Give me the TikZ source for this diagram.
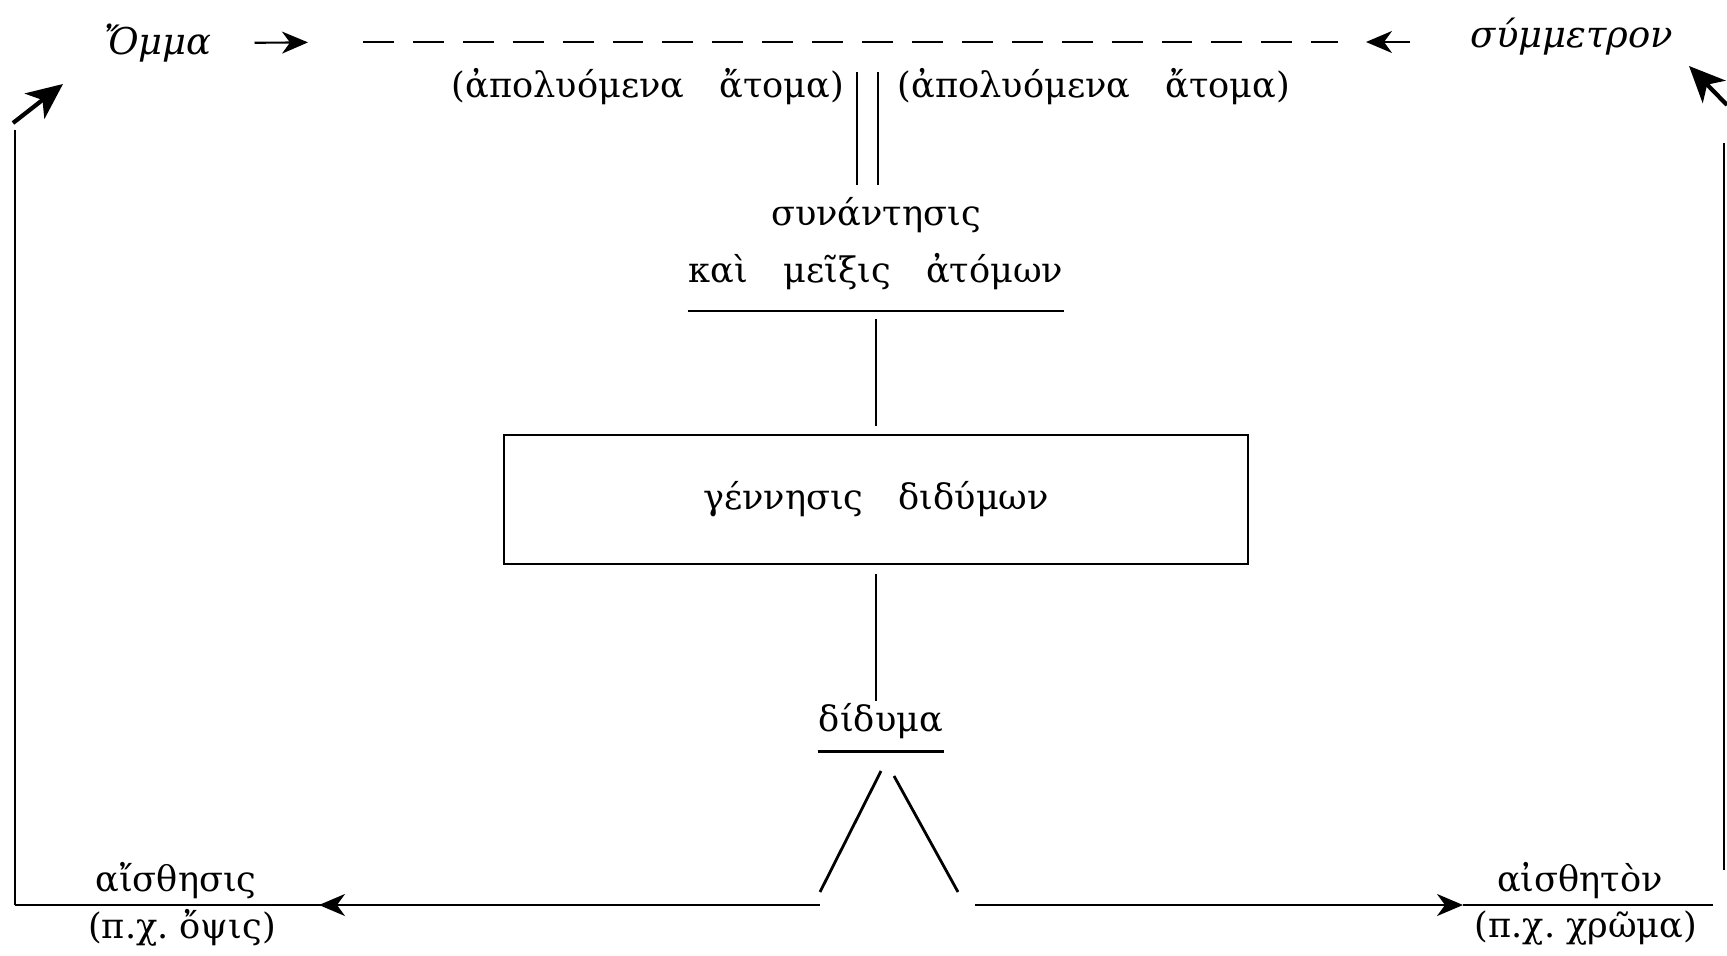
\documentclass[tikz,border=0pt]{standalone}
\usepackage{fontspec}
\setmainfont{DejaVu Serif}
\usetikzlibrary{arrows.meta}
\begin{document}
\begin{tikzpicture}[>={Stealth[length=2.6mm,width=2.2mm,inset=0.8mm]}, semithick,
  lbl/.style={font=\fontsize{10}{12}\selectfont, inner xsep=0pt},
  ital/.style={font=\fontsize{10.5}{13}\selectfont\itshape},
  bigtip/.style={very thick, -{Stealth[length=3.6mm,width=3.2mm,inset=1mm]}}]
\useasboundingbox (0,0) rectangle (17.27,9.55);
% top row
\node[ital] (omma) at (1.58,9.12) {Ὄμμα};
\node[ital] (symm) at (15.72,9.18) {σύμμετρον};
\coordinate (dl) at (3.63,9.13);
\coordinate (dr) at (13.38,9.13);
\draw[dash pattern=on 8.8pt off 5.4pt] (dl)--(dr);
\draw[->, shorten <=3mm, shorten >=5.5mm] (omma.east)--(dl);
\draw[->, shorten <=4.8mm, shorten >=2.8mm] (symm.west |- dr)--(dr);
\node[lbl] (freeL) at (6.48,8.68) {(ἀπολυόμενα\quad ἄτομα)};
\node[lbl] (freeR) at (10.94,8.68) {(ἀπολυόμενα\quad ἄτομα)};
% the two currents meet
\coordinate (dbl) at (8.675,8.83);
\draw ([xshift=-1.05mm]dbl)--++(0,-1.13);
\draw ([xshift=1.05mm]dbl)--++(0,-1.13);
\node[lbl] (meet) at (8.76,7.40) {συνάντησις};
\node[lbl] (mix) at (8.76,6.83) {καὶ\quad μεῖξις\quad ἀτόμων};
\draw ([yshift=-0.8mm]mix.south west)--([yshift=-0.8mm]mix.south east);
\node[draw, lbl, minimum width=7.44cm, minimum height=1.29cm] (gen) at (8.76,4.555) {γέννησις\quad διδύμων};
\draw[shorten <=1.6mm, shorten >=0.8mm] (mix.south)--(gen.north);
\node[lbl] (twin) at (8.81,2.34) {δίδυμα};
\draw (twin.south west)--(twin.south east);
\draw[shorten <=0.9mm, shorten >=-1mm] (gen.south)--(gen.south |- twin.north);
% bottom row
\coordinate (bl) at (0.15,0.50);
\coordinate (tl) at (8.20,0.50);
\coordinate (tr) at (9.75,0.50);
\coordinate (uo) at (14.63,0.50);
\coordinate (ue) at (17.13,0.50);
\draw[thick] (tl)++(0,0.13)--++(0.61,1.21);
\draw[thick] (tl)++(0.74,1.29)--++(0.64,-1.16);
\draw (bl)--(tl);
\draw[->, shorten <=44.5mm, shorten >=30.4mm] (tl)--(bl);
\draw[->] (tr)--(uo);
\draw (uo)--(ue);
\node[lbl] (sens) at (1.76,0.74) {αἴσθησις};
\node[lbl] (sensx) at (1.82,0.27) {(π.χ.\ ὄψις)};
\node[lbl] (obj) at (15.80,0.74) {αἰσθητὸν};
\node[lbl] (objx) at (15.86,0.27) {(π.χ.\ χρῶμα)};
% return paths
\draw (bl)--++(0,7.75);
\coordinate (ul) at (0.13,8.32);
\draw[bigtip] (ul)--++(0.5,0.39);
\coordinate (br) at (17.24,0.85);
\draw (br)--++(0,7.27);
\coordinate (ur) at (17.27,8.50);
\draw[bigtip] (ur)--++(-0.38,0.39);
\end{tikzpicture}
\end{document}
